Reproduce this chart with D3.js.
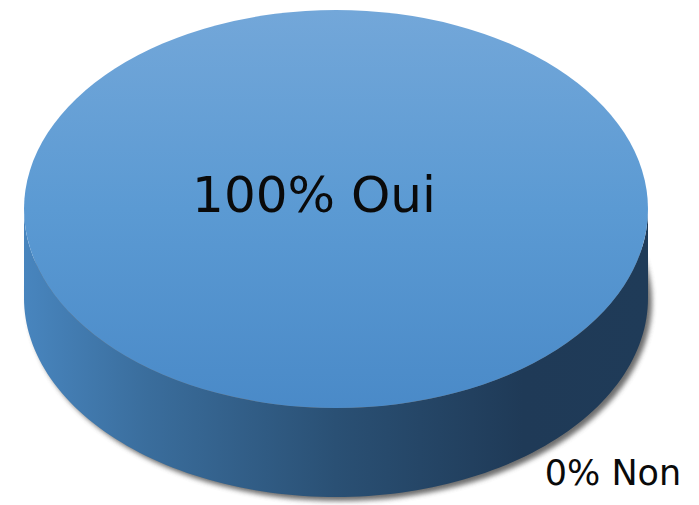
<!DOCTYPE html>
<html><head><meta charset="utf-8">
<script src="https://cdn.jsdelivr.net/npm/d3@7"></script>
<style>html,body{margin:0;padding:0;background:#fff;}svg{display:block;}</style>
</head><body>
<script>
const categories = ["Oui", "Non"];
const values = [100, 0];
const labels = ["100% Oui", "0% Non"];

const W = 699, H = 505;
const cx = 336, cy = 209, rx = 312, ry = 199, depth = 89;

const svg = d3.select("body").append("svg").attr("width", W).attr("height", H);
const defs = svg.append("defs");

const gTop = defs.append("linearGradient").attr("id", "gTop")
  .attr("x1", 0).attr("y1", 0).attr("x2", 0).attr("y2", 1);
[[0, "#73a7d9"], [0.5, "#5b9ad3"], [1, "#4a8ac8"]].forEach(([o, c]) =>
  gTop.append("stop").attr("offset", o).attr("stop-color", c));

const gSide = defs.append("linearGradient").attr("id", "gSide")
  .attr("gradientUnits", "userSpaceOnUse")
  .attr("x1", cx - rx).attr("y1", 0).attr("x2", cx + rx).attr("y2", 0);
[[0, "#4885be"], [0.2, "#3a6d9c"], [0.5, "#2a5074"], [0.8, "#1f3a57"], [1, "#1f3b58"]].forEach(([o, c]) =>
  gSide.append("stop").attr("offset", o).attr("stop-color", c));

const blur = defs.append("filter").attr("id", "blur")
  .attr("x", "-10%").attr("y", "-10%").attr("width", "120%").attr("height", "130%");
blur.append("feGaussianBlur").attr("stdDeviation", 2.5);

const pie = d3.pie().sort(null).value(d => d).startAngle(0).endAngle(2 * Math.PI);
const arcs = pie(values);

// screen point on ellipse for d3 angle (0 = top, clockwise)
const pt = (a, dy = 0) => [cx + rx * Math.sin(a), cy - ry * Math.cos(a) + dy];

// shadow
svg.append("ellipse").attr("cx", cx + 4).attr("cy", cy + depth + 4)
  .attr("rx", rx).attr("ry", ry).attr("fill", "#555").attr("opacity", 0.85)
  .attr("filter", "url(#blur)");

// side walls (front half: angles between PI/2 and 3PI/2)
const sideG = svg.append("g");
arcs.forEach(d => {
  const a0 = Math.max(d.startAngle, Math.PI / 2), a1 = Math.min(d.endAngle, 3 * Math.PI / 2);
  if (a1 <= a0) return;
  const n = 120;
  const angs = d3.range(n + 1).map(i => a0 + (a1 - a0) * i / n);
  const top = angs.map(a => pt(a));
  const bot = angs.slice().reverse().map(a => pt(a, depth));
  sideG.append("path").attr("d", d3.line()(top.concat(bot)) + "Z")
    .attr("fill", "url(#gSide)");
});

// top faces
const arcGen = d3.arc().innerRadius(0).outerRadius(rx);
const topG = svg.append("g").attr("transform", `translate(${cx},${cy}) scale(1,${ry / rx})`);
arcs.forEach(d => {
  if (d.endAngle - d.startAngle <= 0) return;
  topG.append("path").attr("d", arcGen(d)).attr("fill", "url(#gTop)");
});

// labels
svg.append("text").attr("x", 314).attr("y", 212).attr("text-anchor", "middle")
  .attr("font-family", "DejaVu Sans").attr("font-size", 50).attr("fill", "#0a0a0a")
  .text(labels[0]);
svg.append("text").attr("x", 613).attr("y", 485).attr("text-anchor", "middle")
  .attr("font-family", "DejaVu Sans").attr("font-size", 35).attr("fill", "#0a0a0a")
  .text(labels[1]);
</script>
</body></html>
